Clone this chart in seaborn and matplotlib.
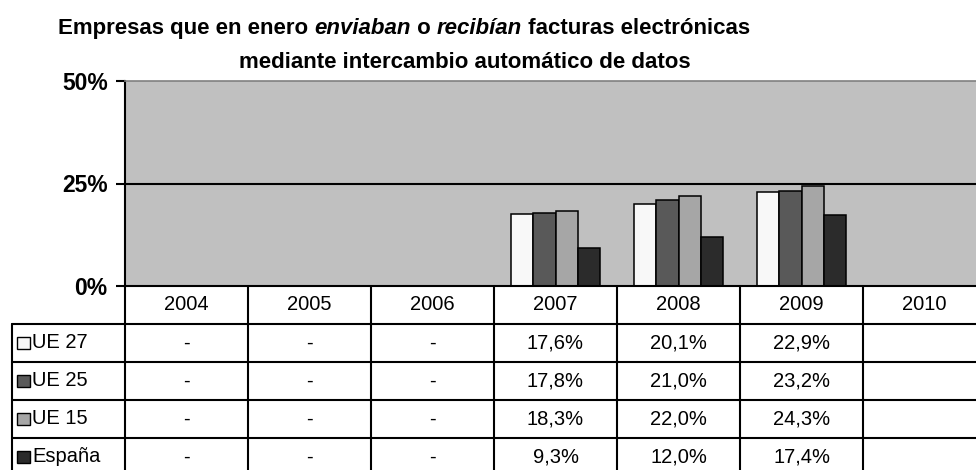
import matplotlib
matplotlib.use("Agg")
import matplotlib.pyplot as plt
import numpy as np
import pandas as pd
import seaborn as sns

# Datos del gráfico
anios = ["2004", "2005", "2006", "2007", "2008", "2009", "2010"]
anios_sin_dato = ["2004", "2005", "2006"]  # en la tabla aparecen con "-"
series = ["UE 27", "UE 25", "UE 15", "España"]
ue27 = [np.nan, np.nan, np.nan, 17.6, 20.1, 22.9, np.nan]
ue25 = [np.nan, np.nan, np.nan, 17.8, 21.0, 23.2, np.nan]
ue15 = [np.nan, np.nan, np.nan, 18.3, 22.0, 24.3, np.nan]
espana = [np.nan, np.nan, np.nan, 9.3, 12.0, 17.4, np.nan]
colores = ["#F8F8F8", "#595959", "#A6A6A6", "#2B2B2B"]
yticks = [0, 25, 50]

valores = {"UE 27": ue27, "UE 25": ue25, "UE 15": ue15, "España": espana}
df = pd.DataFrame(
    [(a, s, v) for s in series for a, v in zip(anios, valores[s])],
    columns=["anio", "serie", "valor"],
)

sns.set_theme(style="white")
plt.rcParams["font.family"] = ["Liberation Sans", "DejaVu Sans"]
plt.rcParams["text.color"] = "black"
plt.rcParams["ytick.labelcolor"] = "black"

W, H = 976, 470
fig = plt.figure(figsize=(W / 100, H / 100), dpi=100)

# Área del gráfico (en píxeles de la figura)
x0, col_w = 125, 123
y_top, y_cero = 81, 286
ax = fig.add_axes([x0 / W, 1 - y_cero / H, len(anios) * col_w / W, (y_cero - y_top) / H])
ax.set_facecolor("#C0C0C0")

sns.barplot(
    data=df, x="anio", y="valor", hue="serie",
    order=anios, hue_order=series, palette=colores,
    width=0.73, gap=0, edgecolor="black", linewidth=1.1,
    legend=False, ax=ax,
)
ax.set_xlim(-0.5, len(anios) - 0.5)
ax.set_ylim(0, 50)
ax.set_yticks(yticks)
ax.set_yticklabels([f"{t}%" for t in yticks], fontsize=16.5, fontweight="bold")
ax.set_xticks([])
ax.set_xlabel("")
ax.set_ylabel("")
ax.axhline(25, color="black", lw=1.5, zorder=0.5)
ax.tick_params(axis="y", left=True, length=6.5, width=1.5, pad=6, color="black")
for lado in ["left", "bottom"]:
    ax.spines[lado].set_color("black")
    ax.spines[lado].set_linewidth(1.5)
ax.spines["top"].set_color("#808080")
ax.spines["top"].set_linewidth(1.2)
ax.spines["right"].set_visible(False)

# Tabla de datos debajo del gráfico
fila_h = 38
n_filas = len(series) + 1
tab = fig.add_axes([x0 / W, 1 - (y_cero + n_filas * fila_h) / H,
                    len(anios) * col_w / W, n_filas * fila_h / H])
tab.set_xlim(-0.5, len(anios) - 0.5)
tab.set_ylim(n_filas, 0)
tab.axis("off")
x_ley = -0.5 - 113 / col_w
lw_t = 1.5
for i in range(1, n_filas + 1):
    tab.plot([x_ley, len(anios) - 0.5], [i, i], color="black", lw=lw_t, clip_on=False)
tab.plot([x_ley, x_ley], [1, n_filas], color="black", lw=lw_t, clip_on=False)
for j in range(len(anios) + 1):
    tab.plot([j - 0.5, j - 0.5], [0, n_filas], color="black", lw=lw_t, clip_on=False)

for j, a in enumerate(anios):
    tab.text(j, 0.5, a, ha="center", va="center", fontsize=14.5)
    for i, s in enumerate(series):
        v = valores[s][j]
        if a in anios_sin_dato:
            txt = "-"
        elif np.isnan(v):
            txt = ""
        else:
            txt = f"{v:.1f}%".replace(".", ",")
        tab.text(j, i + 1.5, txt, ha="center", va="center", fontsize=14.5)

cuad = 13 / col_w
for i, (s, c) in enumerate(zip(series, colores)):
    tab.add_patch(plt.Rectangle((x_ley + 5 / col_w, i + 1.5 - 0.17), cuad, 0.34,
                                facecolor=c, edgecolor="black", lw=1.0, clip_on=False))
    tab.text(x_ley + 20 / col_w, i + 1.5, s, ha="left", va="center", fontsize=14.5)

# Título con partes en cursiva
tam_tit = 16
partes = [("Empresas que en enero ", "normal"), ("enviaban", "italic"),
          (" o ", "normal"), ("recibían", "italic"),
          (" facturas electrónicas", "normal")]
t = fig.text(58 / W, 1 - 34 / H, partes[0][0], fontsize=tam_tit, fontweight="bold",
             ha="left", va="baseline")
for texto, estilo in partes[1:]:
    t = ax.annotate(texto, xy=(1, 0), xycoords=t, va="bottom", ha="left",
                    fontsize=tam_tit, fontweight="bold", fontstyle=estilo,
                    annotation_clip=False)
fig.text(465 / W, 1 - 68 / H, "mediante intercambio automático de datos",
         fontsize=tam_tit, fontweight="bold", ha="center", va="baseline")

fig.savefig("out.png", dpi=100)
